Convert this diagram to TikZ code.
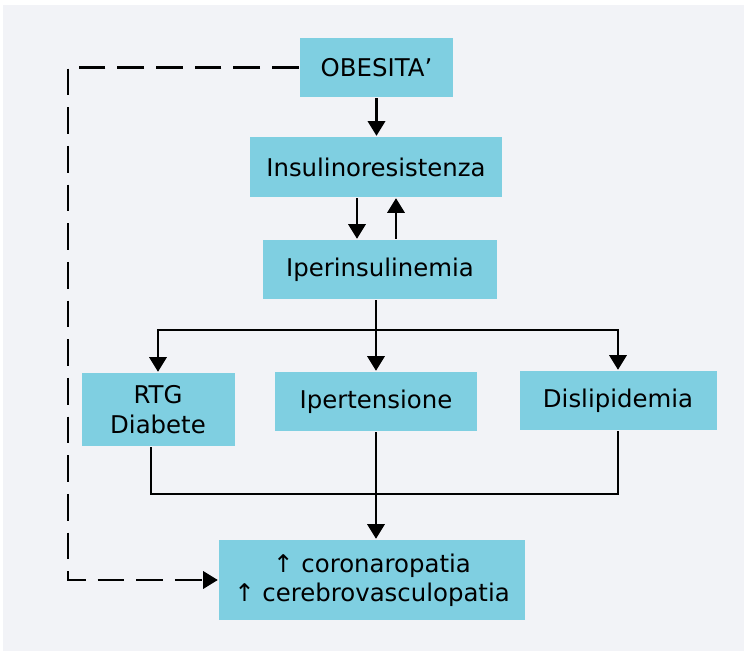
\documentclass[tikz,border=0pt]{standalone}
\usepackage{fontspec}
\setmainfont{DejaVu Sans}
\usetikzlibrary{arrows.meta}
\definecolor{boxblue}{HTML}{7FCFE1}
\definecolor{bggray}{HTML}{F2F3F7}

\begin{document}
\begin{tikzpicture}[
    x=0.75pt, y=-0.75pt, % pixel grid
    line width=1.8pt, % line style
    > = {Triangle[width=13pt,length=11pt]}, % arrow head style
    box/.style ={fill=boxblue, inner sep=0pt, align=center,
        font=\fontsize{18.3}{22}\selectfont},
    arr/.style ={->},
    dsh/.style ={->, dash pattern=on 20pt off 9pt},
]
% background
\fill[bggray] (3,5) rectangle (744,651);
\useasboundingbox (0,0) rectangle (744,654);

\node[box, minimum width=114.75pt, minimum height=44.25pt] (obes) at (376.5,67.5) {OBESITA’};
\node[box, minimum width=189pt, minimum height=45pt] (insres) at (376,167) {Insulinoresistenza};
\node[box, minimum width=175.5pt, minimum height=44.25pt] (iperins) at (380,269.5) {Iperinsulinemia};
\node[box, minimum width=114.75pt, minimum height=54.75pt] (rtg) at (158,409.5) {RTG\\Diabete};
\node[box, minimum width=151.5pt, minimum height=44.25pt] (ipert) at (376,401.5) {Ipertensione};
\node[box, minimum width=147.75pt, minimum height=44.25pt] (dislip) at (618,400.5) {Dislipidemia};
\node[box, minimum width=229.5pt, minimum height=60pt] (cardio) at (372,580)
    {↑ coronaropatia\\↑ cerebrovasculopatia};

% obesita -> insulinoresistenza <-> iperinsulinemia
\draw[arr] (obes.south) -- (obes.south |- insres.north);
\coordinate (dn) at (357,0);
\coordinate (up) at (396,0);
\draw[arr] (dn |- insres.south) -- (dn |- iperins.north);
\draw[arr] (up |- iperins.north) -- (up |- insres.south);

% split to the three effects
\coordinate (split) at (376,330);
\draw (ipert |- iperins.south) -- (split);
\draw[arr] (split) -| (rtg.north);
\draw[arr] (split) -- (ipert.north);
\draw[arr] (split) -| (dislip.north);

% join into the outcome
\coordinate (rtgout) at ([xshift=-5.25pt]rtg.south);
\coordinate (join) at (376,494);
\draw (rtgout) |- (join) -| (dislip.south);
\draw[arr] (ipert.south) -- (ipert.south |- cardio.north);

% direct path
\draw[dsh] (obes.west) -- ++(-231,0) |- (cardio.west);
\end{tikzpicture}
\end{document}
